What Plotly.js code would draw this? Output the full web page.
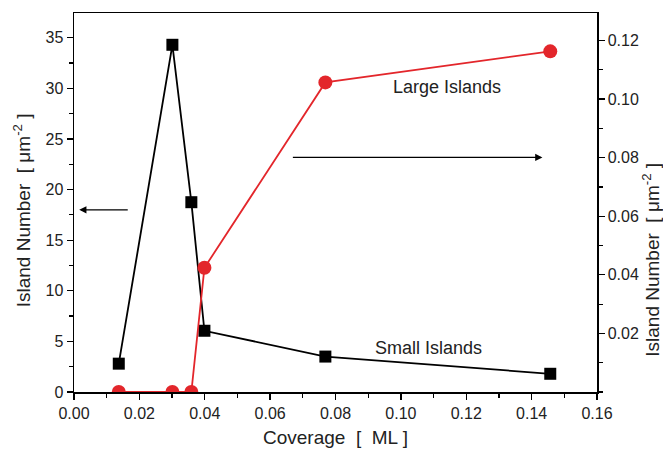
<!DOCTYPE html>
<html>
<head>
<meta charset="utf-8">
<script src="https://cdn.plot.ly/plotly-3.0.1.min.js"></script>
<style>html,body{margin:0;padding:0;background:#fff;}#chart{width:663px;height:453px;}</style>
</head>
<body>
<div id="chart"></div>
<script>
// Coverage [ML]
const coverage = [0.0137, 0.0301, 0.0359, 0.0399, 0.0769, 0.1457];
// Small islands density (left axis)
const smallIslands = [2.8, 34.3, 18.75, 6.05, 3.5, 1.8];
// Large islands density (right axis)
const largeIslands = [0, 0, 0, 0.0424, 0.1057, 0.1163];
const xTicks = [0, 0.02, 0.04, 0.06, 0.08, 0.10, 0.12, 0.14, 0.16];
const y2Ticks = [0.02, 0.04, 0.06, 0.08, 0.10, 0.12];

const font = 'Liberation Sans, Arial, sans-serif';
const nb = '\u00a0';

const traces = [
  {x: coverage, y: smallIslands, type: 'scatter', mode: 'lines+markers', yaxis: 'y',
   line: {color: '#000', width: 1.8}, marker: {symbol: 'square', size: 12, color: '#000'}},
  {x: coverage, y: largeIslands, type: 'scatter', mode: 'lines+markers', yaxis: 'y2',
   line: {color: '#e3262b', width: 1.8}, marker: {symbol: 'circle', size: 14, color: '#e3262b'}}
];

const axisCommon = {showline: true, linecolor: '#000', linewidth: 1.5, ticks: 'outside', ticklen: 6,
  tickwidth: 1.3, tickcolor: '#000', showgrid: false, zeroline: false,
  tickfont: {family: font, size: 16, color: '#222'}};

const layout = {
  width: 663, height: 453,
  margin: {l: 74, r: 66, t: 13, b: 61},
  paper_bgcolor: '#fff', plot_bgcolor: '#fff',
  showlegend: false,
  xaxis: Object.assign({}, axisCommon, {range: [0, 0.16], tickvals: xTicks, tickformat: '.2f',
    mirror: true, minor: {dtick: 0.01, tick0: 0, ticks: 'outside', ticklen: 4, tickcolor: '#000', tickwidth: 1.2}}),
  yaxis: Object.assign({}, axisCommon, {range: [0, 37.44], dtick: 5, tick0: 0,
    minor: {dtick: 2.5, tick0: 0, ticks: 'outside', ticklen: 4, tickcolor: '#000', tickwidth: 1.2}}),
  yaxis2: Object.assign({}, axisCommon, {range: [0, 0.1294], overlaying: 'y', side: 'right',
    tickvals: y2Ticks, tickformat: '.2f',
    minor: {dtick: 0.01, tick0: 0, ticks: 'outside', ticklen: 4, tickcolor: '#000', tickwidth: 1.2}}),
  annotations: [
    {text: 'Coverage' + nb + nb + '[' + nb + nb + 'ML ]', xref: 'paper', yref: 'paper', x: 0.5, y: -0.12,
     xanchor: 'center', yanchor: 'middle', showarrow: false, font: {family: font, size: 19, color: '#222'}},
    {text: 'Island Number' + nb + nb + '[ μm<sup>-2</sup> ]', xref: 'paper', yref: 'paper', x: -0.099, y: 0.48,
     xanchor: 'center', yanchor: 'middle', textangle: -90, showarrow: false, font: {family: font, size: 19, color: '#222'}},
    {text: 'Island Number' + nb + nb + '[ μm<sup>-2</sup> ]', xref: 'paper', yref: 'paper', x: 1.104, y: 0.35,
     xanchor: 'center', yanchor: 'middle', textangle: -90, showarrow: false, font: {family: font, size: 19, color: '#222'}},
    {text: 'Large Islands', xref: 'x', yref: 'y2', x: 0.1142, y: 0.1042, xanchor: 'center', yanchor: 'middle',
     showarrow: false, font: {family: font, size: 18, color: '#222'}},
    {text: 'Small Islands', xref: 'x', yref: 'y', x: 0.1085, y: 4.3, xanchor: 'center', yanchor: 'middle',
     showarrow: false, font: {family: font, size: 18, color: '#222'}},
    {text: '', xref: 'x', yref: 'y', x: 0.0016, y: 18, axref: 'x', ayref: 'y', ax: 0.0169, ay: 18,
     showarrow: true, arrowhead: 2, arrowsize: 1.2, arrowwidth: 1.2, arrowcolor: '#000'},
    {text: '', xref: 'x', yref: 'y2', x: 0.1433, y: 0.0801, axref: 'x', ayref: 'y2', ax: 0.0665, ay: 0.0801,
     showarrow: true, arrowhead: 2, arrowsize: 1.2, arrowwidth: 1.2, arrowcolor: '#000'}
  ]
};

Plotly.newPlot('chart', traces, layout, {displayModeBar: false, staticPlot: true});
</script>
</body>
</html>
